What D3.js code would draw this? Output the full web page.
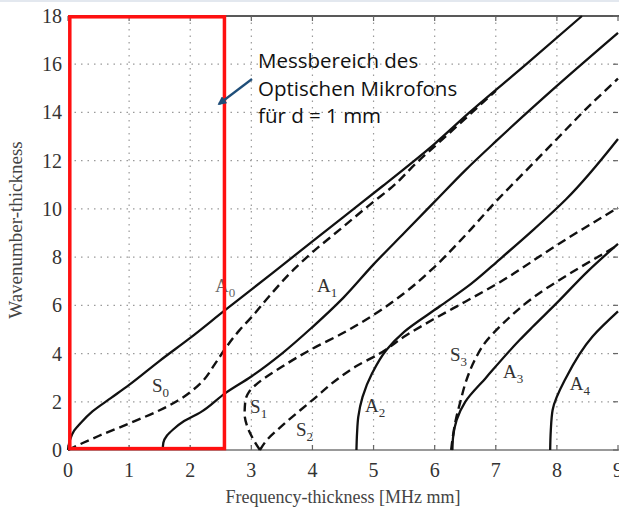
<!DOCTYPE html>
<html>
<head>
<meta charset="utf-8">
<script src="https://cdn.jsdelivr.net/npm/d3@7"></script>
<style>
  body { margin: 0; background: #fff; }
  svg { display: block; }
</style>
</head>
<body>
<svg width="619" height="507"></svg>
<script>
// dispersion curves, [frequency-thickness, wavenumber-thickness]
var modeA0 = [[0,0],[0.03,0.4],[0.1,0.8],[0.2,1.1],[0.4,1.6],[0.7,2.15],[1,2.7],[1.5,3.7],[2,4.65],[2.57,5.8],[3,6.65],[3.5,7.65],[4,8.65],[4.5,9.65],[5.15,10.95],[6,12.7],[6.57,14],[7.5,16],[8.41,18]];
var modeS0 = [[0,0],[0.25,0.3],[0.5,0.58],[1,1.1],[1.5,1.65],[1.8,2.05],[2,2.4],[2.2,2.85],[2.4,3.55],[2.6,4.3],[2.8,4.95],[3,5.5],[3.3,6.4],[3.7,7.5],[4,8.2],[4.5,9.25],[5,10.3],[5.3,10.9],[5.7,11.9],[6.2,13.05],[7,14.9]];
var modeA1 = [[1.55,0],[1.56,0.3],[1.62,0.6],[1.72,0.85],[1.9,1.2],[2.16,1.55],[2.57,2.35],[3,3.05],[3.5,4],[4,5.1],[4.5,6.3],[5,7.7],[5.5,9],[6,10.3],[6.5,11.6],[7,12.8],[8,15.1],[9,17.3]];
var modeS1 = [[3.14,0],[3.02,0.5],[2.93,1],[2.89,1.5],[2.9,2],[2.96,2.4],[3.05,2.65],[3.5,3.45],[4,4.2],[4.5,4.85],[5,5.6],[5.5,6.5],[6,7.6],[6.5,8.9],[7,10.3],[7.5,11.6],[8,12.9],[8.5,14.2],[9,15.4]];
var modeS2 = [[3.14,0],[3.25,0.4],[3.5,1],[3.8,1.65],[4,2.07],[4.44,3],[4.7,3.45],[5.1,4],[5.53,4.75],[6,5.45],[6.5,6.15],[7.06,6.95],[8,8.5],[9,10.05]];
var modeA2 = [[4.72,0],[4.73,0.7],[4.75,1.37],[4.82,2.2],[4.98,3.2],[5.21,4.15],[5.5,4.9],[6.08,5.95],[6.6,6.9],[7.06,7.9],[7.6,9.1],[8.15,10.4],[9,12.9]];
var modeS3 = [[6.27,0],[6.3,0.6],[6.35,1.3],[6.42,2],[6.52,2.9],[6.65,3.7],[6.84,4.5],[7.1,5.2],[7.6,6.3],[8.2,7.3],[8.8,8.2],[9,8.5]];
var modeA3 = [[6.29,0],[6.3,0.5],[6.36,1.25],[6.5,2],[6.84,3],[7.39,4.56],[7.6,5.1],[8,6.1],[8.5,7.4],[9,8.55]];
var modeA4 = [[7.89,0],[7.9,0.8],[7.93,1.66],[8.15,3],[8.58,4.7],[9,5.75]];

var xTicks = [0,1,2,3,4,5,6,7,8,9];
var yTicks = [0,2,4,6,8,10,12,14,16,18];
var modeNames = [["A","0"],["S","0"],["A","1"],["S","1"],["S","2"],["A","2"],["S","3"],["A","3"],["A","4"]];
var noteLines = ["Messbereich des", "Optischen Mikrofons", "für d = 1 mm"];
var xTitle = "Frequency-thickness [MHz mm]";
var yTitle = "Wavenumber-thickness";
var rangeEnd = 2.56; // Messbereich bis f*d

var svg = d3.select("svg");
var x = d3.scaleLinear().domain([0, 9]).range([68, 618]);
var y = d3.scaleLinear().domain([0, 18]).range([450, 16]);

svg.append("rect").attr("x", 0).attr("y", 0).attr("width", 619).attr("height", 2).attr("fill", "#e3e8ef");

// dotted grid
svg.append("g").selectAll("line")
    .data(xTicks.slice(1, -1))
    .enter().append("line")
    .attr("x1", function (d) { return x(d); })
    .attr("x2", function (d) { return x(d); })
    .attr("y1", y(18)).attr("y2", y(0))
    .attr("stroke", "#9a9a9a").attr("stroke-width", 1.2)
    .attr("stroke-dasharray", "1.5,5");
svg.append("g").selectAll("line")
    .data(yTicks.slice(1, -1))
    .enter().append("line")
    .attr("x1", x(0)).attr("x2", x(9))
    .attr("y1", function (d) { return y(d); })
    .attr("y2", function (d) { return y(d); })
    .attr("stroke", "#9a9a9a").attr("stroke-width", 1.2)
    .attr("stroke-dasharray", "1.5,5");

// frame
svg.append("line").attr("x1", x(0)).attr("x2", 619).attr("y1", y(18)).attr("y2", y(18))
    .attr("stroke", "#222").attr("stroke-width", 1.6);
svg.append("line").attr("x1", x(0)).attr("x2", 619).attr("y1", y(0)).attr("y2", y(0))
    .attr("stroke", "#777").attr("stroke-width", 1.6);
var tk = svg.append("g").attr("stroke", "#666").attr("stroke-width", 1.2);
xTicks.forEach(function (d) {
    tk.append("line").attr("x1", x(d)).attr("x2", x(d)).attr("y1", y(0)).attr("y2", y(0) - 5);
    tk.append("line").attr("x1", x(d)).attr("x2", x(d)).attr("y1", y(18)).attr("y2", y(18) + 5);
});
yTicks.forEach(function (d) {
    tk.append("line").attr("x1", x(9)).attr("x2", x(9) - 5).attr("y1", y(d)).attr("y2", y(d));
});

// tick labels
var serif = "'Liberation Serif', 'DejaVu Serif', serif";
svg.append("g").selectAll("text")
    .data(xTicks).enter().append("text")
    .attr("x", function (d) { return x(d); })
    .attr("y", 477)
    .attr("text-anchor", "middle")
    .attr("font-family", serif).attr("font-size", 20).attr("fill", "#333")
    .text(function (d) { return d; });
svg.append("g").selectAll("text")
    .data(yTicks).enter().append("text")
    .attr("x", 62)
    .attr("y", function (d) { return y(d) + 7; })
    .attr("text-anchor", "end")
    .attr("font-family", serif).attr("font-size", 20).attr("fill", "#333")
    .text(function (d) { return d; });

svg.append("text").attr("x", 343).attr("y", 503).attr("text-anchor", "middle")
    .attr("font-family", serif).attr("font-size", 18).attr("fill", "#444").text(xTitle);
svg.append("text").attr("transform", "translate(22,230) rotate(-90)").attr("text-anchor", "middle")
    .attr("font-family", serif).attr("font-size", 19).attr("fill", "#444").text(yTitle);

// curves
var line = d3.line()
    .x(function (d) { return x(d[0]); })
    .y(function (d) { return y(d[1]); })
    .curve(d3.curveMonotoneY);

var solid = [modeA0, modeA1, modeA2, modeA3, modeA4];
var dashed = [modeS0, modeS1, modeS2, modeS3];

svg.append("g").selectAll("path").data(dashed).enter().append("path")
    .attr("d", line).attr("fill", "none").attr("stroke", "#111")
    .attr("stroke-width", 2.4).attr("stroke-dasharray", "9,5");
svg.append("g").selectAll("path").data(solid).enter().append("path")
    .attr("d", line).attr("fill", "none").attr("stroke", "#111")
    .attr("stroke-width", 2.3);

// mode labels
var labelAt = [[2.405, 6.55],[1.375, 2.41],[4.075, 6.55],[2.98, 1.53],[3.73, 0.58],[4.86, 1.58],[6.25, 3.69],[7.12, 2.99],[8.21, 2.49]];
var lab = svg.append("g").selectAll("text").data(modeNames).enter().append("text")
    .attr("x", function (d, i) { return x(labelAt[i][0]); })
    .attr("y", function (d, i) { return y(labelAt[i][1]); })
    .attr("font-family", serif).attr("font-size", 19)
    .attr("fill", function (d, i) { return i === 0 ? "#666" : "#333"; });
lab.append("tspan").text(function (d) { return d[0]; });
lab.append("tspan").attr("dy", 5).attr("font-size", 13).text(function (d) { return d[1]; });

// measuring range of the optical microphone
svg.append("rect")
    .attr("x", x(0) + 1.8).attr("y", y(18) + 0.8)
    .attr("width", x(rangeEnd) - x(0) - 1.8)
    .attr("height", y(0) - y(18) - 2.2)
    .attr("fill", "none").attr("stroke", "#ff1010").attr("stroke-width", 3.5);

svg.append("defs").append("marker")
    .attr("id", "head").attr("viewBox", "0 0 10 10").attr("refX", 8).attr("refY", 5)
    .attr("markerWidth", 4).attr("markerHeight", 4).attr("orient", "auto")
    .append("path").attr("d", "M0,0L10,5L0,10z").attr("fill", "#1f4e79");
svg.append("line").attr("x1", 252).attr("y1", 79).attr("x2", 219).attr("y2", 104)
    .attr("stroke", "#1f4e79").attr("stroke-width", 2.2).attr("marker-end", "url(#head)");

svg.append("g").selectAll("text").data(noteLines).enter().append("text")
    .attr("x", 258)
    .attr("y", function (d, i) { return 68 + i * 27.5; })
    .attr("font-family", "'Open Sans', sans-serif").attr("font-size", 20.5).attr("fill", "#111")
    .text(function (d) { return d; });
</script>
</body>
</html>
